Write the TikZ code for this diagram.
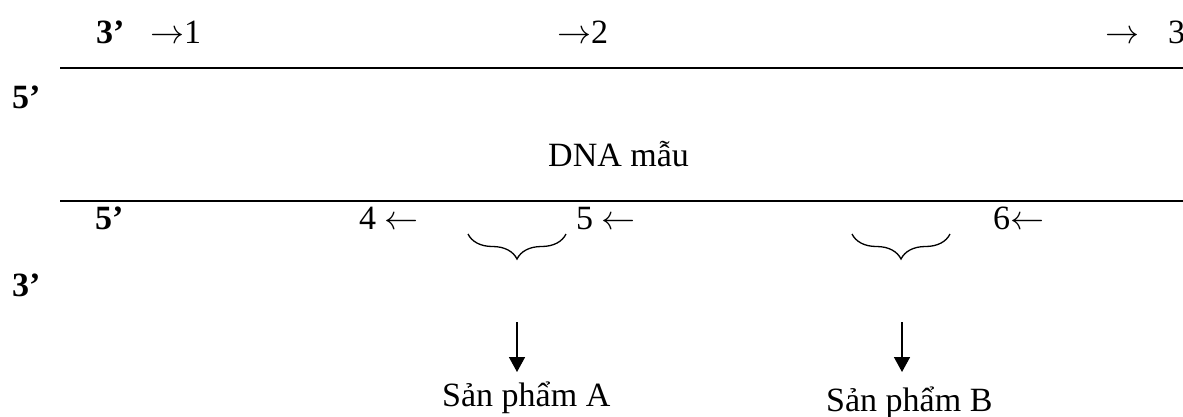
\RequirePackage{fix-cm}
\documentclass[tikz,border=0pt]{standalone}
\usepackage{fontspec}
\setmainfont{Liberation Serif}
\usetikzlibrary{decorations.pathreplacing,arrows.meta}
\newcommand{\ra}{\ensuremath{\rightarrow}}
\newcommand{\la}{\ensuremath{\leftarrow}}
\begin{document}
\begin{tikzpicture}[x=1pt,y=-1pt,
  font=\fontsize{34}{40}\selectfont,
  lbl/.style={inner sep=0pt, anchor=base west},
  bl/.style={lbl, font=\fontsize{34}{40}\selectfont\bfseries},
  strand/.style={line width=2pt},
  brc/.style={decorate, decoration={brace,amplitude=25pt,mirror}, line width=1.3pt},
  arr/.style={line width=1.6pt, -{Triangle[length=15pt,width=16pt]}}]
\useasboundingbox (0,0) rectangle (1183,416);
% strands
\coordinate (L1a) at (60,68);
\coordinate (L1b) at (1183,68);
\coordinate (L2a) at (60,201);
\coordinate (L2b) at (1183,201);
\draw[strand] (L1a) -- (L1b);
\draw[strand] (L2a) -- (L2b);
% top labels
\node[bl] (top3) at (96,43) {3’};
\node[lbl] (p1) at (150,43) {\ra1};
\node[lbl] (p2) at (557,43) {\ra2};
\node[lbl] (p3) at (1105,43) {\ra\hspace{29pt}3};
% left labels
\node[bl] (left5) at (12,108) {5’};
\node[bl] (left3) at (12,296) {3’};
% middle
\node[lbl] (dna) at (548,166) {DNA mẫu};
% bottom labels
\node[bl] (bot5) at (95,229) {5’};
\node[lbl] (p4) at (359,229) {4 \la};
\node[lbl] (p5) at (576,229) {5 \la};
\node[lbl] (p6) at (993,229) {6\la};
% braces
\coordinate (bA1) at (468,234);
\coordinate (bA2) at (566,234);
\coordinate (bB1) at (852,234);
\coordinate (bB2) at (950,234);
\draw[brc] (bA1) -- (bA2);
\draw[brc] (bB1) -- (bB2);
% arrows
\coordinate (aA1) at (517,322);
\coordinate (aA2) at (517,372);
\coordinate (aB1) at (902,322);
\coordinate (aB2) at (902,372);
\draw[arr] (aA1) -- (aA2);
\draw[arr] (aB1) -- (aB2);
% products
\node[lbl] (prodA) at (442,406) {Sản phẩm A};
\node[lbl] (prodB) at (826,411) {Sản phẩm B};
\end{tikzpicture}
\end{document}
